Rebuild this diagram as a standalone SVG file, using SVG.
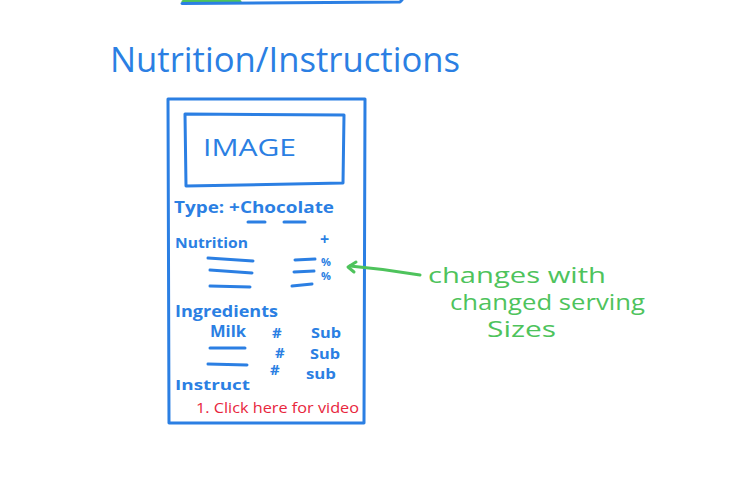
<svg xmlns="http://www.w3.org/2000/svg" width="752" height="478" viewBox="0 0 752 478">
  <style>
    .blue { fill: #2b7fe3; }
    .green { fill: #4ec35c; }
    .red { fill: #e8263c; }
    text { font-family: "Open Sans", "Liberation Sans", sans-serif; }
    .stroke-b { fill: none; stroke: #2b7fe3; stroke-width: 3; stroke-linecap: round; stroke-linejoin: round; }
    .stroke-g { fill: none; stroke: #4ec35c; stroke-width: 3; stroke-linecap: round; stroke-linejoin: round; }
  </style>

  <!-- partial frame above, cut by the top edge -->
  <g id="upper-frame">
    <path class="stroke-g" d="M183 1.5 L240 1.5"/>
    <path class="stroke-b" d="M182 3.5 Q290 3 400 2 L402 0"/>
  </g>

  <!-- heading -->
  <g id="heading">
    <text class="blue" x="110" y="72" font-size="34" textLength="350" lengthAdjust="spacingAndGlyphs">Nutrition/Instructions</text>
  </g>

  <!-- phone screen mockup -->
  <g id="screen">
    <path class="stroke-b" d="M168 99 L365 99 L364 423 L169 423 Z"/>
  </g>

  <g id="image-box">
    <path class="stroke-b" d="M185 114 L344 115 L343 183 L186 186 Z"/>
    <text class="blue" x="203" y="156" font-size="24" textLength="93" lengthAdjust="spacingAndGlyphs">IMAGE</text>
  </g>

  <g id="type-row">
    <text class="blue" x="174" y="213" font-size="16" font-weight="bold" textLength="160" lengthAdjust="spacingAndGlyphs">Type: +Chocolate</text>
    <path class="stroke-b" d="M248 222 L265 222 M284 222 L305 222"/>
  </g>

  <g id="nutrition">
    <text class="blue" x="175" y="248" font-size="14" font-weight="bold" textLength="73" lengthAdjust="spacingAndGlyphs">Nutrition</text>
    <text class="blue" x="320" y="245" font-size="16" font-weight="bold">+</text>
    <path class="stroke-b" d="M208 258 L253 261 M210 270 L252 273 M210 286 L250 287"/>
    <path class="stroke-b" d="M295 260 L315 259 M294 272 L314 271 M292 286 L312 284"/>
    <text class="blue" x="321" y="266" font-size="11" font-weight="bold">%</text>
    <text class="blue" x="321" y="280" font-size="11" font-weight="bold">%</text>
  </g>

  <g id="ingredients">
    <text class="blue" x="175" y="317" font-size="16" font-weight="bold" textLength="103" lengthAdjust="spacingAndGlyphs">Ingredients</text>
    <text class="blue" x="210" y="337" font-size="16" font-weight="bold" textLength="36" lengthAdjust="spacingAndGlyphs">Milk</text>
    <text class="blue" x="272" y="338" font-size="15" font-weight="bold">#</text>
    <text class="blue" x="311" y="338" font-size="15" font-weight="bold" textLength="30" lengthAdjust="spacingAndGlyphs">Sub</text>
    <path class="stroke-b" d="M210 348 L245 348 M208 364 L247 365"/>
    <text class="blue" x="275" y="358" font-size="15" font-weight="bold">#</text>
    <text class="blue" x="310" y="359" font-size="15" font-weight="bold" textLength="30" lengthAdjust="spacingAndGlyphs">Sub</text>
    <text class="blue" x="270" y="375" font-size="15" font-weight="bold">#</text>
    <text class="blue" x="306" y="379" font-size="15" font-weight="bold" textLength="30" lengthAdjust="spacingAndGlyphs">sub</text>
  </g>

  <g id="instructions">
    <text class="blue" x="175" y="390" font-size="15" font-weight="bold" textLength="75" lengthAdjust="spacingAndGlyphs">Instruct</text>
    <text class="red" x="196" y="413" font-size="14" textLength="163" lengthAdjust="spacingAndGlyphs">1. Click here for video</text>
  </g>

  <!-- annotation -->
  <g id="connectors">
    <path class="stroke-g" d="M420 275 Q385 269 350 266"/>
    <path class="stroke-g" d="M356 262 L348 267 L354 272"/>
  </g>

  <g id="note">
    <text class="green" x="428" y="283" font-size="21" textLength="178" lengthAdjust="spacingAndGlyphs">changes with</text>
    <text class="green" x="450" y="310" font-size="21" textLength="195" lengthAdjust="spacingAndGlyphs">changed serving</text>
    <text class="green" x="487" y="337" font-size="21" textLength="69" lengthAdjust="spacingAndGlyphs">Sizes</text>
  </g>
</svg>
